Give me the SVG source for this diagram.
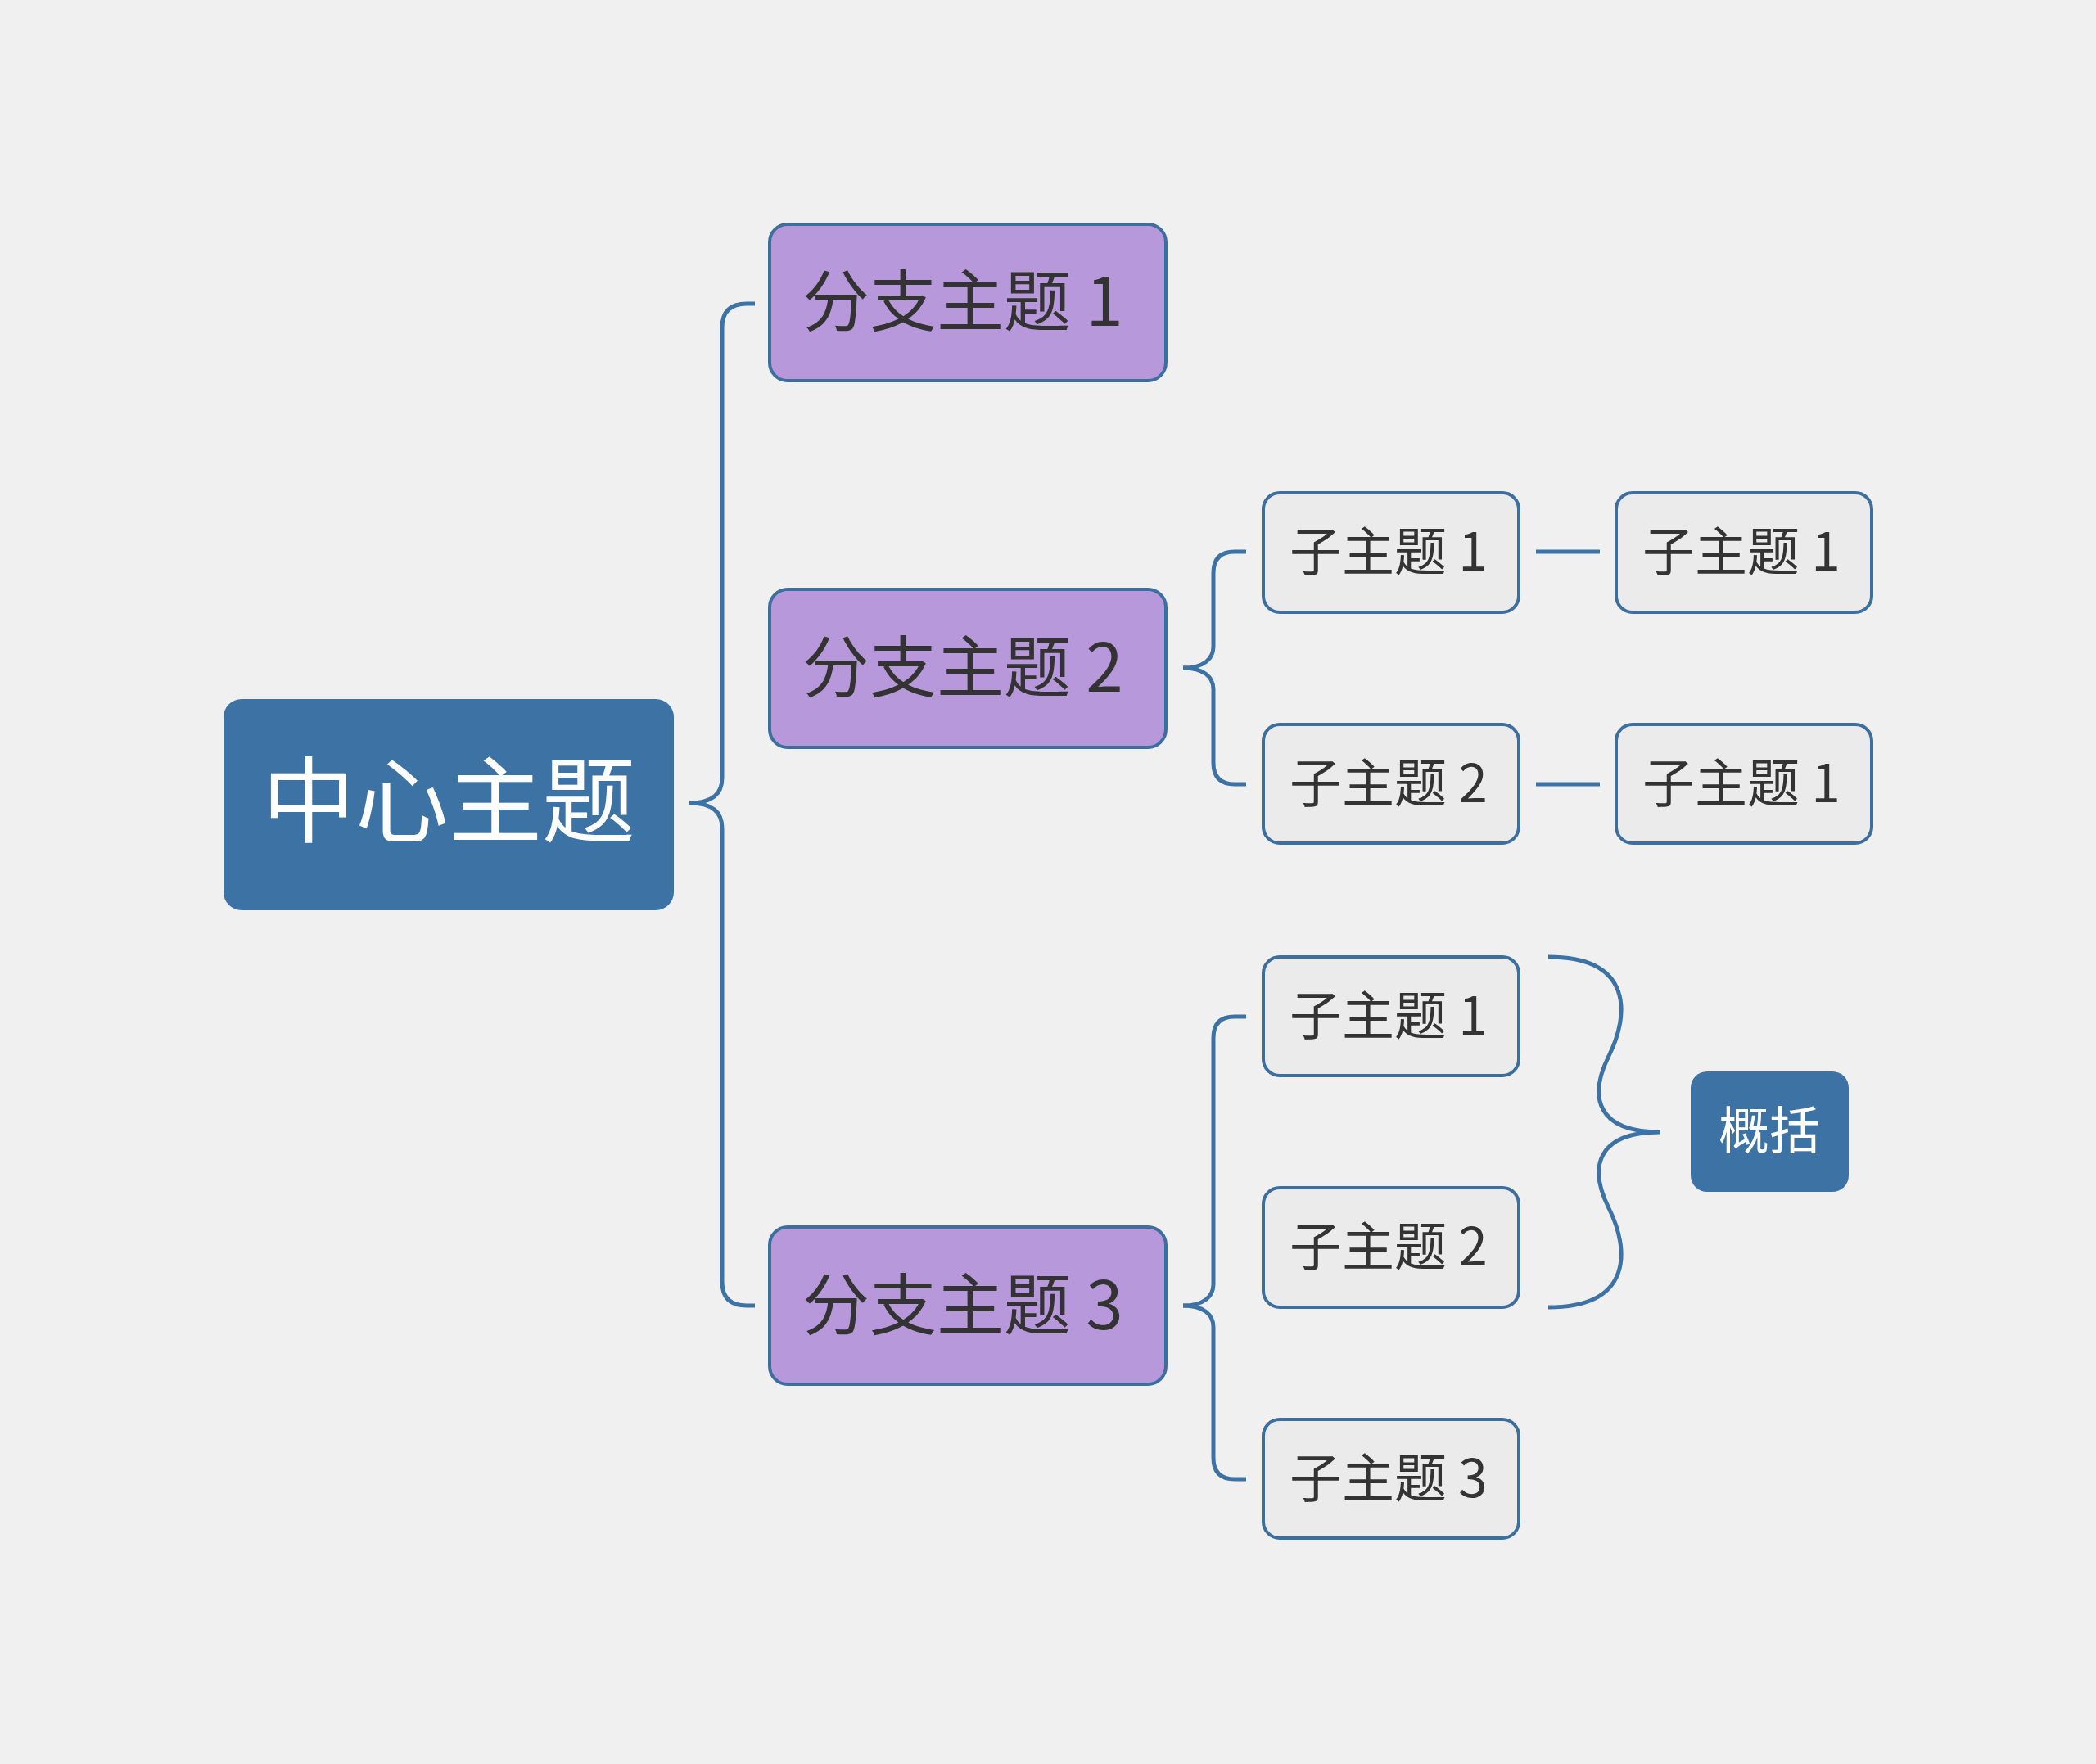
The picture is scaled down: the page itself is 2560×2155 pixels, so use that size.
<svg xmlns="http://www.w3.org/2000/svg" width="2560" height="2155" viewBox="0 0 2560 2155">
<style>
.b rect{fill:#b799db;stroke:#3d6f9e;stroke-width:4}
.s rect{fill:#ebebeb;stroke:#3d6f9e;stroke-width:4}
.b text{font-family:"Noto Sans CJK SC","Noto Sans",sans-serif;font-size:82px;fill:#333}
.s text{font-family:"Noto Sans CJK SC","Noto Sans",sans-serif;font-size:64px;fill:#333}
.c path{fill:none;stroke:#3d72a4;stroke-width:5}
</style>
<rect width="2560" height="2155" fill="#f0f0f0"/>
<g class="c">
<path d="M842,981 C870,981 882,970 882,950 L882,400 Q882,371 912,371 L922,371"/>
<path d="M842,981 C870,981 882,992 882,1012 L882,1566 Q882,1595 912,1595 L922,1595"/>
<path d="M1445,816 C1470,816 1482,805 1482,790 L1482,700 Q1482,674 1508,674 L1522,674"/>
<path d="M1445,816 C1470,816 1482,827 1482,842 L1482,932 Q1482,958 1508,958 L1522,958"/>
<path d="M1445,1595 C1470,1595 1482,1584 1482,1569 L1482,1268 Q1482,1242 1508,1242 L1522,1242"/>
<path d="M1445,1595 C1470,1595 1482,1606 1482,1621 L1482,1781 Q1482,1807 1508,1807 L1522,1807"/>
<path d="M1876,674 L1954,674 M1876,958 L1954,958"/>
<path d="M1891,1169 C1995,1169 1990,1240 1965,1290 C1940,1340 1950,1383 2028,1383 M1891,1597 C1995,1597 1990,1526 1965,1476 C1940,1426 1950,1383 2028,1383"/>
</g>
<g id="center"><rect x="273" y="854" width="550" height="258" rx="22" fill="#3d72a4"/><text x="548" y="1020" text-anchor="middle" font-family="Noto Sans CJK SC,sans-serif" font-size="114" fill="#fff">中心主题</text></g>
<g id="b1" class="b"><rect x="940" y="274" width="484" height="191" rx="22"/><text x="980" y="398">分支主题 1</text></g>
<g id="b2" class="b"><rect x="940" y="720" width="484" height="193" rx="22"/><text x="980" y="845">分支主题 2</text></g>
<g id="b3" class="b"><rect x="940" y="1499" width="484" height="192" rx="22"/><text x="980" y="1624">分支主题 3</text></g>
<g id="s21" class="s"><rect x="1543" y="602" width="312" height="146" rx="20"/><text x="1575" y="697">子主题 1</text></g>
<g id="s22" class="s"><rect x="1543" y="885" width="312" height="145" rx="20"/><text x="1575" y="980">子主题 2</text></g>
<g id="s211" class="s"><rect x="1974" y="602" width="312" height="146" rx="20"/><text x="2006" y="697">子主题 1</text></g>
<g id="s221" class="s"><rect x="1974" y="885" width="312" height="145" rx="20"/><text x="2006" y="980">子主题 1</text></g>
<g id="s31" class="s"><rect x="1543" y="1169" width="312" height="145" rx="20"/><text x="1575" y="1264">子主题 1</text></g>
<g id="s32" class="s"><rect x="1543" y="1451" width="312" height="146" rx="20"/><text x="1575" y="1546">子主题 2</text></g>
<g id="s33" class="s"><rect x="1543" y="1734" width="312" height="145" rx="20"/><text x="1575" y="1829">子主题 3</text></g>
<g id="summary"><rect x="2065" y="1309" width="193" height="147" rx="20" fill="#3d72a4"/><text x="2161" y="1404" text-anchor="middle" font-family="Noto Sans CJK SC,sans-serif" font-size="62" fill="#fff">概括</text></g>
</svg>
